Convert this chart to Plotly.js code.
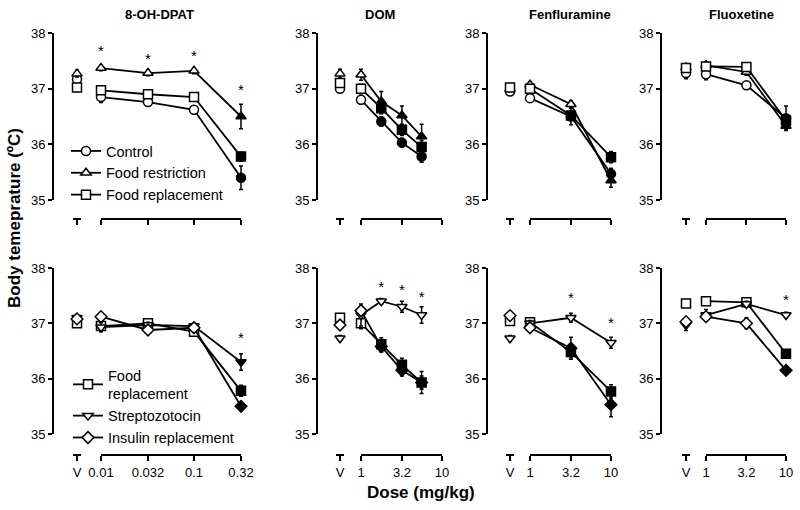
<!DOCTYPE html>
<html><head><meta charset="utf-8">
<script src="https://cdn.plot.ly/plotly-3.0.1.min.js"></script>
<style>html,body{margin:0;padding:0;background:#fff}</style>
</head><body><div id="chart" style="width:800px;height:510px"></div>
<script>
// ---------------- DATA ----------------
// First value of each series = vehicle (V); rest = doses in order.
const dpatDoses = [0.01, 0.032, 0.1, 0.32];
const dpatTickVals = [0.01, 0.032, 0.1, 0.32];
const dpatTickText = ['0.01', '0.032', '0.1', '0.32'];
const domDoses = [1, 1.78, 3.2, 5.6];
const fenDoses = [1, 3.2, 10];
const fluDoses = [1, 3.2, 10];
const tenTickVals = [1, 3.2, 10];
const tenTickText = ['1', '3.2', '10'];

const panelTitles = ['8-OH-DPAT', 'DOM', 'Fenfluramine', 'Fluoxetine'];
const topNames = ['Control', 'Food restriction', 'Food replacement'];
const bottomNames = ['Food<br>replacement', 'Streptozotocin', 'Insulin replacement'];

// Top row
const dpatControl = [37.17, 36.85, 36.76, 36.62, 35.40];
const dpatControlSem = [0.06, 0.1, 0.06, 0.07, 0.21];
const dpatControlFill = [0, 0, 0, 1];
const dpatRestriction = [37.27, 37.37, 37.28, 37.32, 36.50];
const dpatRestrictionSem = [0.06, 0.05, 0.05, 0.05, 0.22];
const dpatRestrictionFill = [0, 0, 0, 1];
const dpatReplacement = [37.02, 36.97, 36.90, 36.85, 35.78];
const dpatReplacementSem = [0.07, 0.05, 0.05, 0.05, 0.08];
const dpatReplacementFill = [0, 0, 0, 1];
const dpatTopStarX = [0.01, 0.032, 0.1, 0.32];
const dpatTopStarY = [37.66, 37.51, 37.56, 36.95];

const domControl = [37.00, 36.80, 36.41, 36.03, 35.78];
const domControlSem = [0.05, 0.08, 0.08, 0.08, 0.1];
const domControlFill = [0, 1, 1, 1];
const domRestriction = [37.27, 37.25, 36.77, 36.52, 36.14];
const domRestrictionSem = [0.08, 0.1, 0.18, 0.17, 0.22];
const domRestrictionFill = [0, 1, 1, 1];
const domReplacement = [37.10, 37.00, 36.65, 36.26, 35.95];
const domReplacementSem = [0.06, 0.08, 0.1, 0.1, 0.12];
const domReplacementFill = [0, 1, 1, 1];

const fenControl = [36.95, 36.83, 36.50, 35.47];
const fenControlSem = [0.05, 0.05, 0.15, 0.1];
const fenControlFill = [0, 1, 1];
const fenRestriction = [37.00, 37.07, 36.72, 35.35];
const fenRestrictionSem = [0.05, 0.05, 0.06, 0.12];
const fenRestrictionFill = [0, 0, 1];
const fenReplacement = [37.02, 37.00, 36.52, 35.77];
const fenReplacementSem = [0.06, 0.05, 0.08, 0.1];
const fenReplacementFill = [0, 1, 1];

const fluControl = [37.28, 37.26, 37.06, 36.47];
const fluControlSem = [0.1, 0.1, 0.05, 0.22];
const fluControlFill = [0, 0, 1];
const fluRestriction = [37.38, 37.42, 37.30, 36.33];
const fluRestrictionSem = [0.06, 0.06, 0.06, 0.06];
const fluRestrictionFill = [0, 0, 1];
const fluReplacement = [37.37, 37.40, 37.39, 36.43];
const fluReplacementSem = [0.05, 0.06, 0.06, 0.1];
const fluReplacementFill = [0, 0, 1];

// Bottom row
const dpatFoodRepl = [37.00, 36.95, 37.00, 36.85, 35.78];
const dpatFoodReplSem = [0.05, 0.05, 0.08, 0.05, 0.1];
const dpatFoodReplFill = [0, 0, 0, 1];
const dpatStrep = [37.10, 36.93, 36.97, 36.95, 36.30];
const dpatStrepSem = [0.05, 0.08, 0.05, 0.05, 0.15];
const dpatStrepFill = [0, 0, 0, 1];
const dpatInsulin = [37.08, 37.12, 36.88, 36.92, 35.50];
const dpatInsulinSem = [0.06, 0.05, 0.05, 0.05, 0.05];
const dpatInsulinFill = [0, 0, 0, 1];
const dpatBotStarX = [0.32];
const dpatBotStarY = [36.72];

const domFoodRepl = [37.10, 37.00, 36.62, 36.25, 35.93];
const domFoodReplSem = [0.05, 0.1, 0.12, 0.12, 0.12];
const domFoodReplFill = [0, 1, 1, 1];
const domStrep = [36.73, 37.15, 37.40, 37.30, 37.15];
const domStrepSem = [0.05, 0.2, 0.05, 0.1, 0.15];
const domStrepFill = [0, 0, 0, 0];
const domInsulin = [36.97, 37.23, 36.58, 36.15, 35.93];
const domInsulinSem = [0.05, 0.08, 0.1, 0.1, 0.2];
const domInsulinFill = [0, 1, 1, 1];
const domBotStarX = [1.78, 3.2, 5.6];
const domBotStarY = [37.64, 37.58, 37.46];

const fenFoodRepl = [37.04, 37.02, 36.48, 35.77];
const fenFoodReplSem = [0.05, 0.05, 0.1, 0.12];
const fenFoodReplFill = [0, 1, 1];
const fenStrep = [36.73, 37.00, 37.10, 36.65];
const fenStrepSem = [0.05, 0.05, 0.08, 0.1];
const fenStrepFill = [0, 0, 0];
const fenInsulin = [37.14, 36.92, 36.55, 35.53];
const fenInsulinSem = [0.05, 0.05, 0.2, 0.22];
const fenInsulinFill = [0, 1, 1];
const fenBotStarX = [3.2, 10];
const fenBotStarY = [37.43, 36.99];

const fluFoodRepl = [37.36, 37.40, 37.38, 36.45];
const fluFoodReplSem = [0.05, 0.05, 0.05, 0.05];
const fluFoodReplFill = [0, 0, 1];
const fluStrep = [36.97, 37.15, 37.35, 37.15];
const fluStrepSem = [0.1, 0.1, 0.05, 0.05];
const fluStrepFill = [0, 0, 0];
const fluInsulin = [37.03, 37.12, 37.00, 36.15];
const fluInsulinSem = [0.06, 0.05, 0.1, 0.05];
const fluInsulinFill = [0, 0, 1];
const fluBotStarX = [10];
const fluBotStarY = [37.40];

// ---------------- LAYOUT GEOMETRY (pixels) ----------------
const W = 800, H = 510;
const FONT = 'Liberation Sans, Arial, Helvetica, sans-serif';
const colGeom = [
  {axis: 54, v: 77, first: 101, last: 241, title: 159},
  {axis: 318, v: 340, first: 361, last: 442, title: 380},
  {axis: 488, v: 510, first: 530, last: 611, title: 570},
  {axis: 662, v: 686, first: 706, last: 786, title: 741}
];
const rowGeom = [{top: 33, bottom: 200, xline: 219}, {top: 268, bottom: 434, xline: 455}];
const topSyms = ['circle', 'triangle-up', 'square'];
const botSyms = ['square', 'triangle-down', 'diamond'];

const panels = [
  {col: 0, row: 0, doses: dpatDoses, tv: dpatTickVals, tt: dpatTickText,
   series: [[dpatControl, dpatControlSem, dpatControlFill], [dpatRestriction, dpatRestrictionSem, dpatRestrictionFill], [dpatReplacement, dpatReplacementSem, dpatReplacementFill]],
   sx: dpatTopStarX, sy: dpatTopStarY},
  {col: 1, row: 0, doses: domDoses, tv: tenTickVals, tt: tenTickText,
   series: [[domControl, domControlSem, domControlFill], [domRestriction, domRestrictionSem, domRestrictionFill], [domReplacement, domReplacementSem, domReplacementFill]],
   sx: [], sy: []},
  {col: 2, row: 0, doses: fenDoses, tv: tenTickVals, tt: tenTickText,
   series: [[fenControl, fenControlSem, fenControlFill], [fenRestriction, fenRestrictionSem, fenRestrictionFill], [fenReplacement, fenReplacementSem, fenReplacementFill]],
   sx: [], sy: []},
  {col: 3, row: 0, doses: fluDoses, tv: tenTickVals, tt: tenTickText,
   series: [[fluControl, fluControlSem, fluControlFill], [fluRestriction, fluRestrictionSem, fluRestrictionFill], [fluReplacement, fluReplacementSem, fluReplacementFill]],
   sx: [], sy: []},
  {col: 0, row: 1, doses: dpatDoses, tv: dpatTickVals, tt: dpatTickText,
   series: [[dpatFoodRepl, dpatFoodReplSem, dpatFoodReplFill], [dpatStrep, dpatStrepSem, dpatStrepFill], [dpatInsulin, dpatInsulinSem, dpatInsulinFill]],
   sx: dpatBotStarX, sy: dpatBotStarY},
  {col: 1, row: 1, doses: domDoses, tv: tenTickVals, tt: tenTickText,
   series: [[domFoodRepl, domFoodReplSem, domFoodReplFill], [domStrep, domStrepSem, domStrepFill], [domInsulin, domInsulinSem, domInsulinFill]],
   sx: domBotStarX, sy: domBotStarY},
  {col: 2, row: 1, doses: fenDoses, tv: tenTickVals, tt: tenTickText,
   series: [[fenFoodRepl, fenFoodReplSem, fenFoodReplFill], [fenStrep, fenStrepSem, fenStrepFill], [fenInsulin, fenInsulinSem, fenInsulinFill]],
   sx: fenBotStarX, sy: fenBotStarY},
  {col: 3, row: 1, doses: fluDoses, tv: tenTickVals, tt: tenTickText,
   series: [[fluFoodRepl, fluFoodReplSem, fluFoodReplFill], [fluStrep, fluStrepSem, fluStrepFill], [fluInsulin, fluInsulinSem, fluInsulinFill]],
   sx: fluBotStarX, sy: fluBotStarY}
];

const lg = v => Math.log10(v);
const traces = [];
const shapes = [];
const layout = {
  width: W, height: H,
  margin: {l: 0, r: 0, t: 0, b: 0},
  paper_bgcolor: '#fff', plot_bgcolor: 'rgba(0,0,0,0)',
  font: {family: FONT, color: '#000', size: 13},
  showlegend: true,
  legend: {x: 66 / W, xanchor: 'left', y: 1 - 135 / H, yanchor: 'top', bgcolor: 'rgba(0,0,0,0)',
           font: {size: 14.5, family: FONT}, itemwidth: 30, tracegroupgap: 0},
  legend2: {x: 68 / W, xanchor: 'left', y: 1 - 359 / H, yanchor: 'top', bgcolor: 'rgba(0,0,0,0)',
           font: {size: 14.5, family: FONT}, itemwidth: 30, tracegroupgap: 0},
  annotations: [],
  shapes: shapes
};

panels.forEach((p, i) => {
  const g = colGeom[p.col], r = rowGeom[p.row];
  const xn = i === 0 ? 'x' : 'x' + (i + 1);
  const yn = i === 0 ? 'y' : 'y' + (i + 1);
  const t0 = lg(p.tv[0]), t1 = lg(p.tv[p.tv.length - 1]);
  const ppd = (g.last - g.first) / (t1 - t0);
  const vx = t0 - (g.first - g.v) / ppd;
  const xmin = t0 - (g.first - g.axis) / ppd;
  const xmax = t1 + 6 / ppd;
  const yline = 1 - r.xline / H;
  layout['xaxis' + (i === 0 ? '' : i + 1)] = {
    domain: [g.axis / W, (g.last + 6) / W], range: [xmin, xmax],
    anchor: 'free', position: yline,
    showline: false, showgrid: false, zeroline: false,
    ticks: 'outside', ticklen: 5, tickwidth: 2, tickcolor: '#000',
    tickvals: [vx].concat(p.tv.map(lg)), ticktext: ['V'].concat(p.tt),
    showticklabels: p.row === 1, tickfont: {size: 13, family: FONT, color: '#000'},
    fixedrange: true
  };
  layout['yaxis' + (i === 0 ? '' : i + 1)] = {
    domain: [1 - r.bottom / H, 1 - r.top / H], range: [35, 38], anchor: xn,
    showline: true, linewidth: 2, linecolor: '#000',
    ticks: 'outside', ticklen: 4, tickwidth: 2, tickcolor: '#000',
    tickvals: [35, 36, 37, 38], showgrid: false, zeroline: false,
    tickfont: {size: 13, family: FONT, color: '#000'}, fixedrange: true
  };
  shapes.push({type: 'line', xref: xn, yref: 'paper', x0: t0, x1: t1, y0: yline, y1: yline,
               line: {color: '#000', width: 2}});
  shapes.push({type: 'line', xref: xn, yref: 'paper', xsizemode: 'pixel', xanchor: vx, x0: -4, x1: 4,
               y0: yline, y1: yline, line: {color: '#000', width: 2}});

  const syms = p.row === 0 ? topSyms : botSyms;
  const names = p.row === 0 ? topNames : bottomNames;
  p.series.forEach((s, k) => {
    const vals = s[0], sem = s[1], fill = s[2];
    traces.push({
      type: 'scatter', mode: 'markers', x: [vx], y: [vals[0]], xaxis: xn, yaxis: yn,
      showlegend: false, cliponaxis: false, hoverinfo: 'skip',
      marker: {symbol: syms[k], size: 9, color: '#fff', line: {color: '#000', width: 1.5}},
      error_y: {type: 'data', array: [sem[0]], color: '#000', thickness: 1.5, width: 2}
    });
    traces.push({
      type: 'scatter', mode: 'lines+markers', name: names[k],
      x: p.doses.map(lg), y: vals.slice(1), xaxis: xn, yaxis: yn,
      showlegend: p.col === 0, legend: p.row === 0 ? 'legend' : 'legend2',
      cliponaxis: false, hoverinfo: 'skip',
      line: {color: '#000', width: 1.8},
      marker: {symbol: syms[k], size: 9, color: fill.map(f => f ? '#000' : '#fff'),
               line: {color: '#000', width: 1.5}},
      error_y: {type: 'data', array: sem.slice(1), color: '#000', thickness: 1.5, width: 2}
    });
  });
  if (p.sx.length) {
    traces.push({
      type: 'scatter', mode: 'text', x: p.sx.map(lg), y: p.sy, text: p.sx.map(() => '*'),
      xaxis: xn, yaxis: yn, showlegend: false, cliponaxis: false, hoverinfo: 'skip',
      textposition: 'middle center', textfont: {size: 15, family: FONT, color: '#000'}
    });
  }
});

panelTitles.forEach((t, c) => {
  layout.annotations.push({xref: 'paper', yref: 'paper', x: colGeom[c].title / W, y: 1 - 14 / H,
    text: '<b>' + t + '</b>', showarrow: false, xanchor: 'center', yanchor: 'middle',
    font: {size: 13, family: FONT, color: '#000'}});
});
layout.annotations.push({xref: 'paper', yref: 'paper', x: 14 / W, y: 1 - 218 / H,
  text: '<b>Body temeprature (ºC)</b>', textangle: -90, showarrow: false,
  xanchor: 'center', yanchor: 'middle', font: {size: 17, family: FONT, color: '#000'}});
layout.annotations.push({xref: 'paper', yref: 'paper', x: 421 / W, y: 1 - 492 / H,
  text: '<b>Dose (mg/kg)</b>', showarrow: false,
  xanchor: 'center', yanchor: 'middle', font: {size: 17, family: FONT, color: '#000'}});

Plotly.newPlot('chart', traces, layout, {staticPlot: true, displayModeBar: false});
</script></body></html>
